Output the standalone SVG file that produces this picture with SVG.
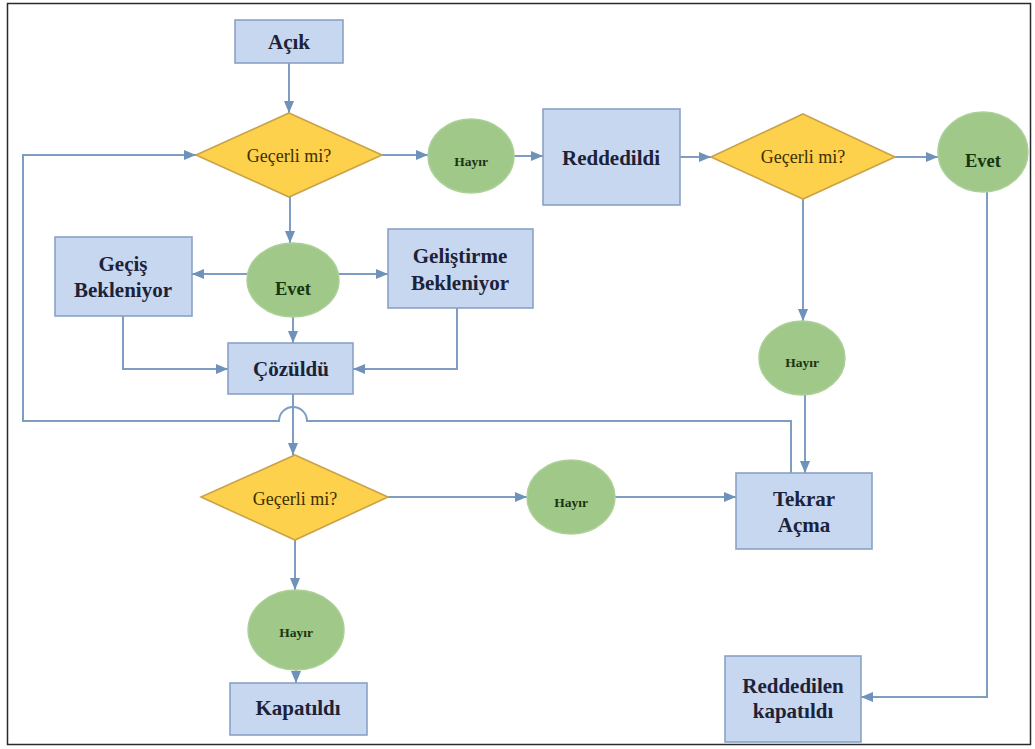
<svg xmlns="http://www.w3.org/2000/svg" width="1035" height="749" viewBox="0 0 1035 749">
  <defs>
    <marker id="arrow" markerUnits="userSpaceOnUse" markerWidth="12" markerHeight="12" viewBox="0 0 10 10" refX="10" refY="5" orient="auto">
      <path d="M0,0.8 L10,5 L0,9.2 Z" fill="#6f92bb"/>
    </marker>
    <style>
      .box { fill: #c6d7ef; stroke: #8aa2c6; stroke-width: 1.6; }
      .dia { fill: #fdd14c; stroke: #c9a24a; stroke-width: 1.6; }
      .ell { fill: #9fc889; stroke: #acd098; stroke-width: 1.5; }
      .link { fill: none; stroke: #7d9dc3; stroke-width: 2; }
      .arr { marker-end: url(#arrow); }
      text { font-family: 'Liberation Serif', 'DejaVu Serif', serif; text-anchor: middle; }
      .bt { font-weight: bold; font-size: 21px; fill: #1c2238; }
      .dt { font-size: 18px; fill: #3b3000; }
      .et { font-weight: bold; fill: #1b3410; }
      .hy { font-size: 13.5px; }
      .ev { font-size: 18.5px; }
    </style>
  </defs>

  <rect x="0" y="0" width="1035" height="749" fill="#ffffff"/>
  <rect x="7.5" y="3.5" width="1023" height="741" fill="none" stroke="#2a2a2a" stroke-width="1.5"/>

  <!-- connectors -->
  <g id="connectors">
    <path class="link arr" d="M289,63 V113"/>
    <path class="link arr" d="M382,155 H428"/>
    <path class="link arr" d="M514,156 H543"/>
    <path class="link arr" d="M680,157 H711"/>
    <path class="link arr" d="M895,157 H938"/>
    <path class="link arr" d="M803,199 V321"/>
    <path class="link arr" d="M805,395 V473"/>
    <path class="link arr" d="M987,192 V697 H861"/>
    <path class="link arr" d="M290,197 V243"/>
    <path class="link arr" d="M248,274 H192"/>
    <path class="link arr" d="M338,274 H388"/>
    <path class="link arr" d="M293,317 V343"/>
    <path class="link arr" d="M123,316 V369 H228"/>
    <path class="link arr" d="M457,308 V369 H353"/>
    <path class="link arr" d="M293,394 V455"/>
    <path class="link arr" d="M388,497 H527"/>
    <path class="link arr" d="M615,497 H736"/>
    <path class="link arr" d="M295,540 V590"/>
    <path class="link arr" d="M296,670 V683"/>
    <!-- reopen loop back to the first check, hopping over the vertical line -->
    <path class="link arr" d="M791,473 V421 H307 A14,14 0 0 0 279,421 H23 V155 H196"/>
  </g>

  <g id="acik">
    <rect class="box" x="235" y="20" width="108" height="43"/>
    <text class="bt" x="289" y="49">Açık</text>
  </g>

  <g id="gecerli1">
    <polygon class="dia" points="289,113 382,155 289,197 196,155"/>
    <text class="dt" x="289" y="162">Geçerli mi?</text>
  </g>

  <g id="hayir1">
    <ellipse class="ell" cx="471" cy="156" rx="43" ry="37"/>
    <text class="et hy" x="471" y="166">Hayır</text>
  </g>

  <g id="reddedildi">
    <rect class="box" x="543" y="109" width="137" height="96"/>
    <text class="bt" x="611" y="165">Reddedildi</text>
  </g>

  <g id="gecerli2">
    <polygon class="dia" points="803,114 895,157 803,199 711,157"/>
    <text class="dt" x="803" y="163">Geçerli mi?</text>
  </g>

  <g id="evet1">
    <ellipse class="ell" cx="983" cy="152" rx="45" ry="40"/>
    <text class="et ev" x="983" y="167">Evet</text>
  </g>

  <g id="evet2">
    <ellipse class="ell" cx="293" cy="280" rx="46" ry="37"/>
    <text class="et ev" x="293" y="295">Evet</text>
  </g>

  <g id="gecis-bekleniyor">
    <rect class="box" x="55" y="237" width="137" height="79"/>
    <text class="bt" x="123" y="271">Geçiş</text>
    <text class="bt" x="123" y="297">Bekleniyor</text>
  </g>

  <g id="gelistirme-bekleniyor">
    <rect class="box" x="388" y="229" width="145" height="79"/>
    <text class="bt" x="460" y="263">Geliştirme</text>
    <text class="bt" x="460" y="290">Bekleniyor</text>
  </g>

  <g id="cozuldu">
    <rect class="box" x="228" y="343" width="125" height="51"/>
    <text class="bt" x="291" y="376">Çözüldü</text>
  </g>

  <g id="hayir2">
    <ellipse class="ell" cx="802" cy="358" rx="43" ry="37"/>
    <text class="et hy" x="802" y="367">Hayır</text>
  </g>

  <g id="gecerli3">
    <polygon class="dia" points="295,455 388,497 295,540 201,497"/>
    <text class="dt" x="295" y="505">Geçerli mi?</text>
  </g>

  <g id="hayir4">
    <ellipse class="ell" cx="571" cy="497" rx="44" ry="37"/>
    <text class="et hy" x="571" y="507">Hayır</text>
  </g>

  <g id="tekrar-acma">
    <rect class="box" x="736" y="473" width="136" height="76"/>
    <text class="bt" x="804" y="506">Tekrar</text>
    <text class="bt" x="804" y="532">Açma</text>
  </g>

  <g id="hayir3">
    <ellipse class="ell" cx="296" cy="630" rx="48" ry="40"/>
    <text class="et hy" x="296" y="637">Hayır</text>
  </g>

  <g id="kapatildi">
    <rect class="box" x="230" y="683" width="137" height="52"/>
    <text class="bt" x="298" y="715">Kapatıldı</text>
  </g>

  <g id="reddedilen-kapatildi">
    <rect class="box" x="725" y="656" width="136" height="86"/>
    <text class="bt" x="793" y="693">Reddedilen</text>
    <text class="bt" x="793" y="718">kapatıldı</text>
  </g>
</svg>
